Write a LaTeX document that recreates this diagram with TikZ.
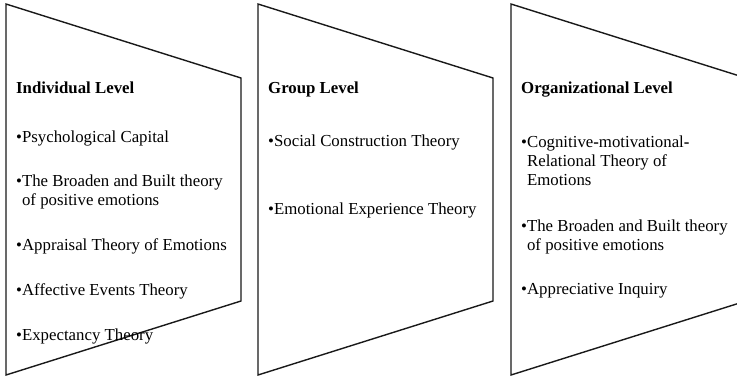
\documentclass[tikz,border=0pt]{standalone}
\usepackage{fontspec}
\setmainfont{Liberation Serif}
\begin{document}
\begin{tikzpicture}[x=1pt,y=-1pt,
  panel/.style={draw=black!90, line width=1.4pt, line join=miter},
  txt/.style={anchor=base west, inner sep=0pt, font=\fontsize{16.8}{19}\selectfont},
  head/.style={anchor=base west, inner sep=0pt, font=\fontsize{16.8}{19}\selectfont\bfseries}]
\useasboundingbox (0,0) rectangle (737,376);
\clip (0,0) rectangle (737,376);
% panels
\draw[panel] (6,4) -- (241,78) -- (241,301) -- (6,375) -- cycle;
\draw[panel] (258,4) -- (493,78) -- (493,301) -- (258,375) -- cycle;
\draw[panel] (511,4) -- (746,78) -- (746,301) -- (511,375) -- cycle;
% individual level
\node[head] (h1) at (16,93.5) {Individual Level};
\node[txt] (a1) at (16,142) {\textbullet Psychological Capital};
\node[txt] (a2) at (16,186) {\textbullet The Broaden and Built theory};
\node[txt] (a2b) at (16,205) {\hphantom{\textbullet}of positive emotions};
\node[txt] (a3) at (16,250) {\textbullet Appraisal Theory of Emotions};
\node[txt] (a4) at (16,295) {\textbullet Affective Events Theory};
\node[txt] (a5) at (16,340) {\textbullet Expectancy Theory};
% group level
\node[head] (h2) at (268,93.5) {Group Level};
\node[txt] (b1) at (268,146) {\textbullet Social Construction Theory};
\node[txt] (b2) at (268,214) {\textbullet Emotional Experience Theory};
% organizational level
\node[head] (h3) at (521,93.5) {Organizational Level};
\node[txt] (c1) at (521,147) {\textbullet Cognitive\textbf{-}motivational\textbf{-}};
\node[txt] (c1b) at (521,166) {\hphantom{\textbullet}Relational Theory of};
\node[txt] (c1c) at (521,185) {\hphantom{\textbullet}Emotions};
\node[txt] (c2) at (521,231) {\textbullet The Broaden and Built theory};
\node[txt] (c2b) at (521,250) {\hphantom{\textbullet}of positive emotions};
\node[txt] (c3) at (521,294) {\textbullet Appreciative Inquiry};
\end{tikzpicture}
\end{document}
